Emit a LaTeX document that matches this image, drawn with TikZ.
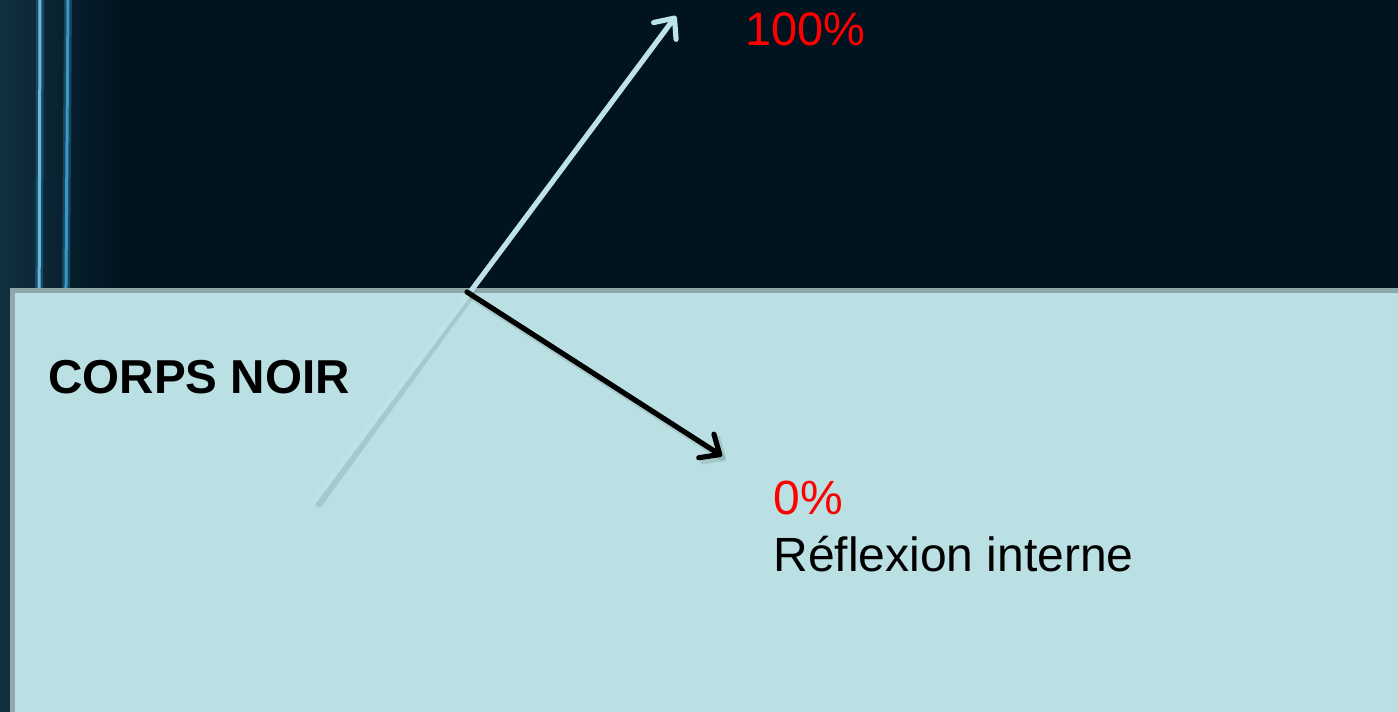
\documentclass[tikz,border=0pt]{standalone}
\usepackage{fontspec}
\setmainfont{Liberation Sans}
\usetikzlibrary{arrows.meta}
\definecolor{bgdark}{HTML}{00131F}
\definecolor{streak}{HTML}{3FA8D8}
\definecolor{panel}{HTML}{BAE0E3}
\definecolor{panelborder}{HTML}{8FA8AA}
\definecolor{ray}{HTML}{BDE3E6}
\definecolor{pct}{HTML}{FF0000}
\tikzset{
  raystyle/.style={line width=2.6pt, line cap=round, -{Straight Barb[length=8pt,width=14pt,line width=2.6pt,round]}},
  shadowline/.style={draw=black, opacity=0.1, line width=3.4pt, line cap=round},
  shadowarrow/.style={raystyle, draw=black, opacity=0.1, line width=3.4pt},
  lbl/.style={anchor=base west, inner sep=0pt, font=\fontsize{24}{28}\selectfont},
}
\begin{document}
\begin{tikzpicture}[x=0.5pt,y=-0.5pt]
\useasboundingbox (0,0) rectangle (1398,712);
\fill[bgdark] (0,0) rectangle (1398,712);
\shade[left color=bgdark!40!streak!45!black, right color=bgdark] (0,0) rectangle (120,712);
\draw[streak!60!bgdark, line width=4pt, opacity=0.5] (40,0) -- (38,712);
\draw[streak!80!white, line width=1.5pt] (40,0) -- (38,712);
\draw[streak!60!bgdark, line width=4pt, opacity=0.5] (68,0) -- (63,712);
\draw[streak!90!bgdark, line width=1.5pt] (68,0) -- (63,712);
% panel
\draw[fill=panel, draw=panelborder, line width=2.5pt] (12,290) rectangle (1410,720);
% rays
\coordinate (src) at (315,500);
\coordinate (hit) at (467,292);
\coordinate (top) at (676,16);
\coordinate (bot) at (722,456);
\coordinate (srcs) at (319,504);
\coordinate (hits) at (471,296);
\coordinate (bots) at (726,460);
\draw[shadowline] (srcs) -- (hits);
\draw[shadowarrow] (hits) -- (bots);
\draw[raystyle, draw=ray] (src) -- (top);
\draw[raystyle, draw=black] (hit) -- (bot);
% labels
\node[lbl, text=pct, font=\fontsize{23.5}{28}\selectfont] (t100) at (745,45) {100\%};
\node[lbl, font=\bfseries\fontsize{23.8}{28}\selectfont] (corps) at (48,393) {CORPS NOIR};
\node[lbl, text=pct] (t0) at (773,514) {0\%};
\node[lbl] (refl) at (773,571) {Réflexion interne};
\end{tikzpicture}
\end{document}
